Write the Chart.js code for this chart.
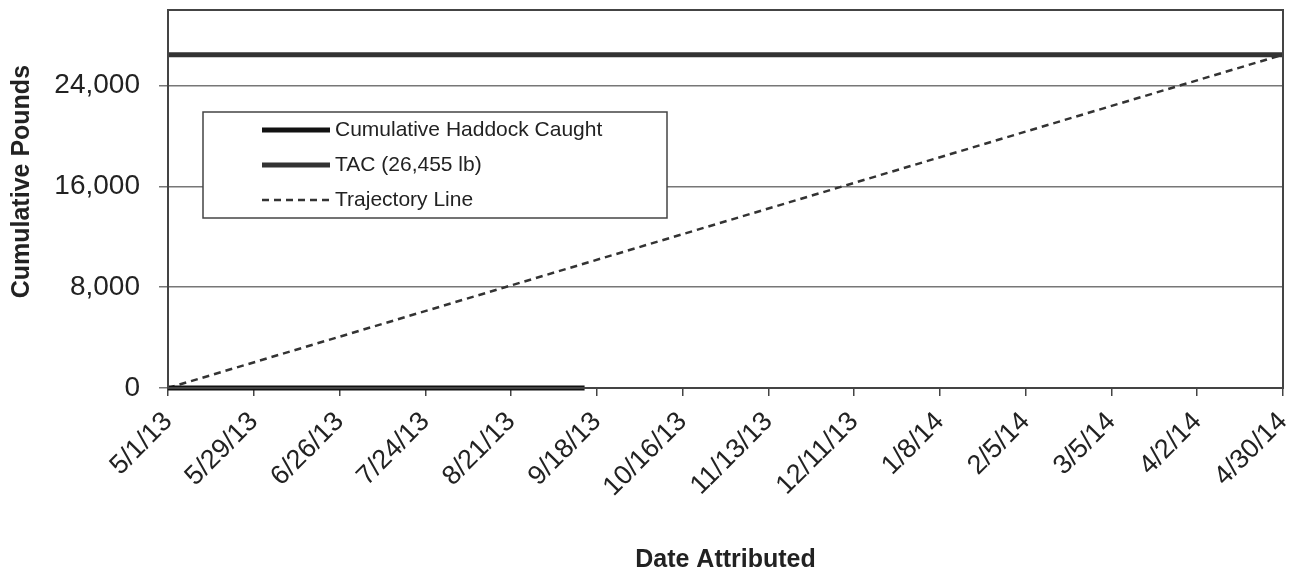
<!DOCTYPE html>
<html lang="en">
<head>
    <meta charset="UTF-8">
    <title>Cumulative Haddock Caught</title>
    <script src="https://cdn.jsdelivr.net/npm/chart.js"></script>
    <style>
        html, body { margin: 0; padding: 0; background: #fff; }
        #wrap { width: 1298px; height: 575px; position: relative; }
    </style>
</head>
<body>
    <div id="wrap"><canvas id="haddockChart"></canvas></div>

    <script>
        // Data (dates are m/d/yy, values in pounds)
        const startDate = '5/1/13';
        const haddockDates = ['5/1/13', '9/14/13'];
        const haddockPounds = [0, 0];
        const tacDates = ['5/1/13', '4/30/14'];
        const tacPounds = [26455, 26455];
        const trajectoryDates = ['5/1/13', '4/30/14'];
        const trajectoryPounds = [0, 26455];
        const yTicks = [0, 8000, 16000, 24000];
        const legendLabels = ['Cumulative Haddock Caught', 'TAC (26,455 lb)', 'Trajectory Line'];

        function parseDate(s) {
            const [m, d, y] = s.split('/').map(Number);
            return new Date(2000 + y, m - 1, d);
        }
        const start = parseDate(startDate);

        // days since 5/1/13
        function dayOffset(s) {
            return Math.round((parseDate(s) - start) / 86400000);
        }
        function dayLabel(n) {
            const d = new Date(start);
            d.setDate(d.getDate() + n);
            return (d.getMonth() + 1) + '/' + d.getDate() + '/' + String(d.getFullYear()).slice(2);
        }
        function toPoints(dates, values) {
            return dates.map((s, i) => ({ x: dayOffset(s), y: values[i] }));
        }

        Chart.defaults.font.family = '"Liberation Sans", Arial, sans-serif';
        Chart.defaults.color = '#222';

        // frame around the plot and the boxed legend
        const framePlugin = {
            id: 'frame',
            afterDraw(chart) {
                const { ctx, chartArea: a } = chart;
                ctx.save();
                ctx.strokeStyle = '#444';
                ctx.lineWidth = 2;
                ctx.strokeRect(a.left, a.top, a.right - a.left, a.bottom - a.top);

                const bx = a.left + 35, by = a.top + 102, bw = 464, bh = 106;
                ctx.fillStyle = '#fff';
                ctx.fillRect(bx, by, bw, bh);
                ctx.lineWidth = 1.5;
                ctx.strokeStyle = '#444';
                ctx.strokeRect(bx, by, bw, bh);

                ctx.font = '21px "Liberation Sans", Arial, sans-serif';
                ctx.textBaseline = 'middle';
                chart.data.datasets.forEach((ds, i) => {
                    const y = by + 18 + i * 35;
                    ctx.beginPath();
                    ctx.strokeStyle = ds.borderColor;
                    ctx.lineWidth = ds.borderWidth;
                    ctx.setLineDash(ds.borderDash || []);
                    ctx.moveTo(bx + 59, y);
                    ctx.lineTo(bx + 127, y);
                    ctx.stroke();
                    ctx.setLineDash([]);
                    ctx.fillStyle = '#222';
                    ctx.fillText(legendLabels[i], bx + 132, y);
                });
                ctx.restore();
            }
        };

        const ctx = document.getElementById('haddockChart').getContext('2d');
        new Chart(ctx, {
            type: 'line',
            data: {
                datasets: [
                    {
                        label: legendLabels[0],
                        data: toPoints(haddockDates, haddockPounds),
                        borderColor: '#111',
                        borderWidth: 5,
                        pointRadius: 0,
                        clip: false
                    },
                    {
                        label: legendLabels[1],
                        data: toPoints(tacDates, tacPounds),
                        borderColor: '#333',
                        borderWidth: 5,
                        pointRadius: 0
                    },
                    {
                        label: legendLabels[2],
                        data: toPoints(trajectoryDates, trajectoryPounds),
                        borderColor: '#333',
                        borderWidth: 2.5,
                        borderDash: [7, 5],
                        pointRadius: 0
                    }
                ]
            },
            options: {
                responsive: true,
                maintainAspectRatio: false,
                animation: false,
                layout: { padding: { top: 10, right: 15, left: 0, bottom: 0 } },
                plugins: {
                    legend: { display: false },
                    tooltip: { enabled: false }
                },
                scales: {
                    x: {
                        type: 'linear',
                        min: 0,
                        max: 364,
                        afterFit: s => {
                            s.height = 187;
                            s.paddingLeft = 0;
                            s.paddingRight = 0;
                        },
                        ticks: {
                            stepSize: 28,
                            autoSkip: false,
                            minRotation: 45,
                            maxRotation: 45,
                            padding: 10,
                            font: { size: 27 },
                            color: '#222',
                            callback: v => dayLabel(v)
                        },
                        grid: { drawOnChartArea: false, tickLength: 8, color: '#444', lineWidth: 1.5 },
                        border: { color: '#222', width: 1.5 },
                        title: {
                            display: true,
                            text: 'Date Attributed',
                            font: { size: 25, weight: 'bold' },
                            color: '#222',
                            padding: { top: 0, bottom: 0 }
                        }
                    },
                    y: {
                        min: 0,
                        max: 30000,
                        afterFit: s => {
                            s.width = 168;
                            s.paddingTop = 0;
                            s.paddingBottom = 0;
                        },
                        afterBuildTicks: s => { s.ticks = yTicks.map(v => ({ value: v })); },
                        ticks: {
                            padding: 19,
                            font: { size: 28 },
                            color: '#222',
                            callback: v => v.toLocaleString('en-US')
                        },
                        grid: { color: '#777', lineWidth: 1.5, tickLength: 9 },
                        border: { color: '#222', width: 1.5 },
                        title: {
                            display: true,
                            text: '     Cumulative Pounds',
                            font: { size: 25, weight: 'bold' },
                            color: '#222',
                            padding: { top: 7, bottom: 0 }
                        }
                    }
                }
            },
            plugins: [framePlugin]
        });
    </script>
</body>
</html>
